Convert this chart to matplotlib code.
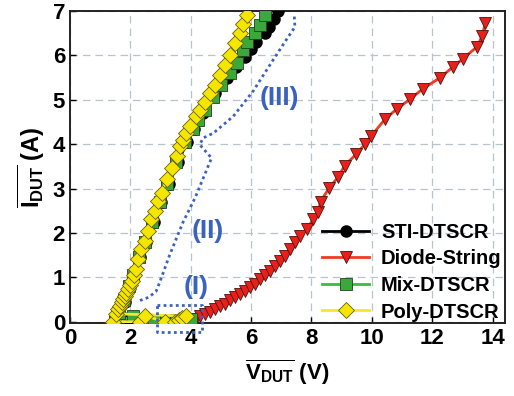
import matplotlib
matplotlib.use("Agg")
import matplotlib.pyplot as plt

plt.rcParams['font.family'] = ['Liberation Sans', 'DejaVu Sans']
plt.rcParams['font.weight'] = 'bold'
plt.rcParams['mathtext.fontset'] = 'custom'
plt.rcParams['mathtext.rm'] = 'Liberation Sans:bold'
plt.rcParams['mathtext.it'] = 'Liberation Sans:bold'
plt.rcParams['mathtext.bf'] = 'Liberation Sans:bold'

# STI-DTSCR (black circles)
sti_v = [1.5, 2.0, 3.0, 3.9, 1.65, 1.82, 1.98, 2.12, 2.32, 2.52, 2.78, 3.02, 3.28, 3.58, 3.88,
         4.12, 4.42, 4.8, 5.19, 5.5, 5.79, 6.0, 6.16, 6.46, 6.6, 6.75, 6.9]
sti_i = [0.0, 0.01, 0.02, 0.05, 0.15, 0.45, 0.8, 1.05, 1.45, 1.8, 2.25, 2.7, 3.1, 3.6, 4.05,
         4.35, 4.7, 5.15, 5.49, 5.75, 5.97, 6.15, 6.31, 6.5, 6.65, 6.83, 7.0]

# Diode-String (red triangles)
diode_v = [1.5, 2.5, 3.5, 4.0, 4.19, 4.30, 4.47, 4.64, 4.80, 4.97, 5.13, 5.30, 5.46, 5.63,
           5.79, 5.96, 6.13, 6.29, 6.46, 6.62, 6.79, 6.95, 7.12, 7.28, 7.45, 7.62, 7.84,
           8.06, 8.22, 8.30, 8.59, 8.88, 9.10, 9.47, 9.78, 9.97, 10.44, 10.82, 11.27,
           11.69, 12.26, 12.70, 13.02, 13.49, 13.65, 13.76]
diode_i = [0.0, 0.01, 0.02, 0.03, 0.07, 0.13, 0.18, 0.23, 0.29, 0.35, 0.40, 0.48, 0.55, 0.63,
           0.70, 0.78, 0.85, 0.96, 1.05, 1.15, 1.26, 1.37, 1.49, 1.64, 1.79, 1.94, 2.09,
           2.31, 2.47, 2.71, 3.02, 3.26, 3.52, 3.77, 4.01, 4.18, 4.57, 4.79, 5.02,
           5.25, 5.50, 5.75, 5.93, 6.20, 6.44, 6.73]

# Mix-DTSCR (green squares)
mix_v = [1.5, 2.1, 2.8, 3.5, 4.0, 1.62, 1.8, 1.96, 2.1, 2.29, 2.49, 2.73, 2.97, 3.22, 3.52, 3.82,
         4.06, 4.25, 4.47, 4.75, 5.02, 5.30, 5.52, 5.74, 5.85, 6.13, 6.29, 6.46]
mix_i = [0.0, 0.12, 0.02, 0.03, 0.07, 0.2, 0.5, 0.8, 1.05, 1.45, 1.8, 2.25, 2.7, 3.1, 3.6, 4.05,
         4.35, 4.55, 4.78, 5.07, 5.34, 5.60, 5.82, 6.12, 6.31, 6.50, 6.68, 6.91]

# Poly-DTSCR (yellow diamonds)
poly_v = [1.43, 2.32, 2.48, 3.15, 3.48, 3.60, 3.70, 3.86, 1.52, 1.60, 1.65, 1.71, 1.76, 1.82,
          1.87, 1.93, 1.98, 2.04, 2.12, 2.19, 2.26, 2.37, 2.48, 2.59, 2.70, 2.81, 2.92,
          3.04, 3.20, 3.37, 3.53, 3.64, 3.75, 3.86, 3.97, 4.19, 4.30, 4.47, 4.64, 4.80,
          4.97, 5.13, 5.30, 5.46, 5.63, 5.74, 5.85]
poly_i = [0.0, 0.0, 0.14, 0.0, 0.0, 0.05, 0.08, 0.13, 0.18, 0.29, 0.36, 0.44, 0.52, 0.59,
          0.66, 0.74, 0.83, 0.93, 1.06, 1.19, 1.41, 1.64, 1.82, 2.05, 2.31, 2.50, 2.72,
          2.91, 3.21, 3.47, 3.73, 3.95, 4.10, 4.25, 4.40, 4.63, 4.78, 4.96, 5.15, 5.34,
          5.56, 5.78, 6.01, 6.27, 6.50, 6.72, 6.91]

# dotted region outline
bound_v = [2.32, 2.6, 2.85, 2.98, 3.3, 3.75, 4.15, 4.69, 4.30, 4.41, 4.75, 5.41, 6.07,
           6.73, 7.23, 7.45, 7.43]
bound_i = [0.48, 0.55, 0.68, 0.9, 1.5, 2.25, 2.8, 3.69, 3.99, 4.14, 4.25, 4.63, 5.2,
           5.9, 6.42, 6.64, 6.9]
box_v = [2.87, 4.36, 4.36, 2.87, 2.87]
box_i = [0.37, 0.37, -0.23, -0.23, 0.37]

blue = '#3a62c0'

fig = plt.figure(figsize=(5.14, 3.96), dpi=100)
ax = fig.add_axes([0.136, 0.184, 0.846, 0.788])

ax.plot(sti_v, sti_i, color='black', lw=2, marker='o', ms=8, mfc='black', mec='black',
        label='STI-DTSCR', zorder=3)
ax.plot(diode_v, diode_i, color='#f03a22', lw=2, marker='v', ms=9, mfc='#e8201a',
        mec='#501010', mew=0.6, label='Diode-String', zorder=4)
ax.plot(mix_v, mix_i, color='#3cbc3c', lw=2, marker='s', ms=8, mfc='#3aa83a',
        mec='#204020', mew=0.6, label='Mix-DTSCR', zorder=5)
ax.plot(poly_v, poly_i, color='#f2e830', lw=2, marker='D', ms=8, mfc='#f5e600',
        mec='#6a6000', mew=0.6, label='Poly-DTSCR', zorder=6)

ax.plot(bound_v, bound_i, color=blue, lw=2, ls=(0, (1, 1.2)), zorder=7)
ax.plot(box_v, box_i, color=blue, lw=2, ls=(0, (1, 1.2)), zorder=7, clip_on=False)

ax.text(6.95, 5.05, '(III)', color=blue, fontsize=19, fontweight='bold', ha='center', va='center')
ax.text(4.58, 2.05, '(II)', color=blue, fontsize=19, fontweight='bold', ha='center', va='center')
ax.text(4.19, 0.78, '(I)', color=blue, fontsize=19, fontweight='bold', ha='center', va='center')

ax.set_xlim(0, 14.4)
ax.set_ylim(-0.03, 7)
ax.set_xticks(range(0, 15, 2))
ax.set_yticks(range(0, 8))
ax.tick_params(direction='in', labelsize=16, length=4, width=1)
for lab in ax.get_xticklabels() + ax.get_yticklabels():
    lab.set_fontweight('bold')
ax.grid(True, color='#b8c4cc', ls=(0, (6, 4)), lw=0.9)
for sp in ax.spines.values():
    sp.set_linewidth(1.4)
    sp.set_color('#222222')

ax.set_xlabel(r'$\overline{\mathrm{V_{DUT}}}$ (V)', fontsize=16, fontweight='bold', labelpad=6)
ax.set_ylabel(r'$\overline{\mathrm{I_{DUT}}}$ (A)', fontsize=17, fontweight='bold', labelpad=4)

ax.legend(loc='lower right', bbox_to_anchor=(1.025, -0.04), frameon=False, handlelength=2.3,
          labelspacing=0.38, borderaxespad=0.3, handletextpad=0.6,
          prop={'weight': 'bold', 'size': 14.5})

fig.savefig('out.png', dpi=100)
